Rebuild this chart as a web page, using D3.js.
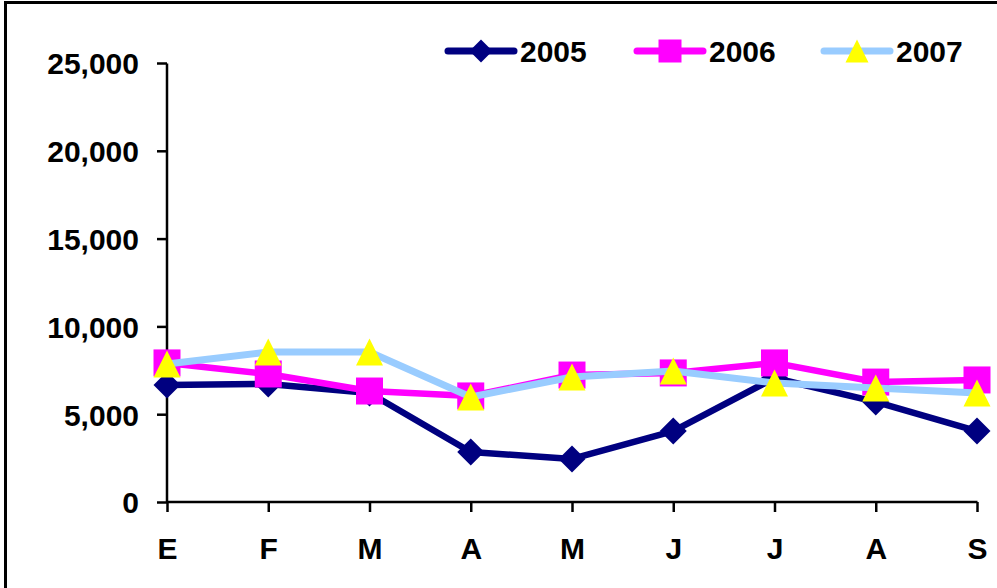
<!DOCTYPE html>
<html>
<head>
<meta charset="utf-8">
<script src="https://cdn.jsdelivr.net/npm/d3@7"></script>
<style>
  body { margin: 0; background: #fff; }
  svg text { font-family: "Liberation Sans", Arial, sans-serif; font-weight: bold; fill: #000; }
</style>
</head>
<body>
<div id="chart"></div>
<script>
// chart data
var months = ["E", "F", "M", "A", "M", "J", "J", "A", "S"];
var years = ["2005", "2006", "2007"];
var values2005 = [6660, 6720, 6210, 2850, 2450, 4040, 7060, 5700, 4040];
var values2006 = [7920, 7290, 6320, 6040, 7230, 7350, 7920, 6830, 6950];
var values2007 = [7860, 8540, 8540, 5980, 7120, 7460, 6780, 6490, 6210];
var yTicks = [0, 5000, 10000, 15000, 20000, 25000];

var svgWidth = 997;
var svgHeight = 588;

var margin = { top: 63, right: 20, bottom: 86, left: 167 };
var width = 977 - margin.left;
var height = svgHeight - margin.top - margin.bottom;

var svg = d3.select("#chart")
  .append("svg")
  .attr("width", svgWidth)
  .attr("height", svgHeight);

// outer frame (runs off the right and bottom edge)
svg.append("rect")
  .attr("x", 5.5)
  .attr("y", 2.5)
  .attr("width", 1100)
  .attr("height", 700)
  .attr("fill", "none")
  .attr("stroke", "#000")
  .attr("stroke-width", 3);

var chartGroup = svg.append("g")
  .attr("transform", "translate(" + margin.left + "," + margin.top + ")");

var xScale = d3.scalePoint()
  .domain(d3.range(months.length))
  .range([0, width]);

var yScale = d3.scaleLinear()
  .domain([0, 25000])
  .range([height, 0]);

// marker shapes, r = half of the box
function diamond(r) { return "M0," + (-r) + "L" + r + ",0L0," + r + "L" + (-r) + ",0Z"; }
function square(r) { return "M" + (-r) + "," + (-r) + "H" + r + "V" + r + "H" + (-r) + "Z"; }
function triangle(r) { return "M0," + (-r) + "L" + r + "," + r + "H" + (-r) + "Z"; }

var series = [
  { name: years[0], values: values2005, line: "#000080", fill: "#000080", shape: diamond, lw: 6.5 },
  { name: years[1], values: values2006, line: "#FF00FF", fill: "#FF00FF", shape: square, lw: 6.5 },
  { name: years[2], values: values2007, line: "#99CCFF", fill: "#FFFF00", shape: triangle, lw: 7 }
];

// axes
var leftAxis = d3.axisLeft(yScale)
  .tickValues(yTicks)
  .tickSize(10)
  .tickPadding(18)
  .tickFormat(d3.format(","));

var bottomAxis = d3.axisBottom(xScale)
  .tickSize(10)
  .tickPadding(26)
  .tickFormat(function (i) { return months[i]; });

var yAxisG = chartGroup.append("g").call(leftAxis);
var xAxisG = chartGroup.append("g")
  .attr("transform", "translate(0," + height + ")")
  .call(bottomAxis);

[yAxisG, xAxisG].forEach(function (g) {
  g.select(".domain").attr("stroke", "#000").attr("stroke-width", 2.5);
  g.selectAll(".tick line").attr("stroke", "#000").attr("stroke-width", 2.5);
  g.selectAll(".tick text").style("font-size", "30px");
});
yAxisG.select(".domain").attr("d", "M0," + (height + 0.5) + "V0.5");
yAxisG.selectAll(".tick text").attr("dy", "0.36em");
xAxisG.select(".domain").attr("d", "M0.5,0H" + (width + 0.5));

var line = d3.line()
  .x(function (d, i) { return xScale(i); })
  .y(function (d) { return yScale(d); });

series.forEach(function (s) {
  chartGroup.append("path")
    .datum(s.values)
    .attr("d", line)
    .attr("fill", "none")
    .attr("stroke", s.line)
    .attr("stroke-width", s.lw)
    .attr("stroke-linejoin", "round");

  chartGroup.selectAll(null)
    .data(s.values)
    .enter()
    .append("path")
    .attr("transform", function (d, i) { return "translate(" + xScale(i) + "," + yScale(d) + ")"; })
    .attr("d", s.shape(13.5))
    .attr("fill", s.fill);
});

// legend
var legendX = [448, 637, 824];
var legend = svg.append("g");
series.forEach(function (s, i) {
  var g = legend.append("g").attr("transform", "translate(" + legendX[i] + ",51)");
  g.append("line")
    .attr("x1", 0).attr("x2", 66)
    .attr("stroke", s.line)
    .attr("stroke-width", 7)
    .attr("stroke-linecap", "round");
  g.append("path")
    .attr("transform", "translate(33,0)")
    .attr("d", s.shape(11.5))
    .attr("fill", s.fill);
  g.append("text")
    .attr("x", 72)
    .attr("y", 11)
    .style("font-size", "30px")
    .text(s.name);
});
</script>
</body>
</html>
